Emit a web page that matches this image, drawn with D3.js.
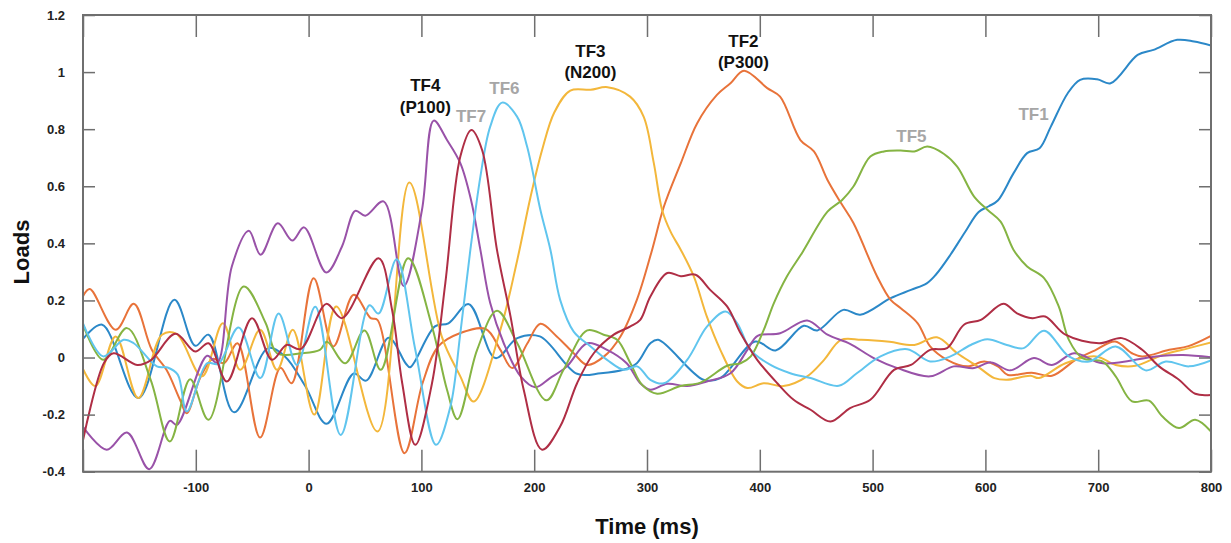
<!DOCTYPE html>
<html>
<head>
<meta charset="utf-8">
<script src="https://cdn.jsdelivr.net/npm/d3@7"></script>
<style>
  body { margin: 0; background: #fff; }
  svg { display: block; font-family: "Liberation Sans", Arial, sans-serif; }
</style>
</head>
<body>
<svg id="chart" width="1231" height="543"></svg>
<script>
// time (ms) / load pairs, one array per temporal factor
var tf1 = [[-200,0.065],[-183,0.115],[-151,-0.142],[-119,0.202],[-100.5,0.041],[-88.7,0.08],[-66,-0.192],[-36,0.033],[-21,0.004],[-3,-0.1],[16,-0.232],[40,-0.056],[51,-0.081],[71,0.069],[86,-0.02],[90,-0.034],[112,0.109],[124,0.12],[142,0.187],[165.6,-0.002],[185,0.068],[205,0.074],[238,-0.057],[259,-0.055],[279,-0.043],[291,-0.02],[303,0.05],[310,0.062],[350,-0.078],[365,-0.072],[396,0.056],[414,0.025],[439,0.111],[451,0.095],[474,0.167],[489,0.15],[516,0.208],[534,0.237],[548,0.26],[556,0.29],[569,0.36],[582,0.44],[594,0.51],[603,0.53],[611,0.55],[625,0.646],[637,0.716],[648,0.733],[658,0.809],[673,0.926],[684,0.973],[699,0.975],[711,0.961],[735,1.06],[749,1.078],[770,1.113],[785,1.107],[800,1.093]];
var tf2 = [[-200,0.215],[-194,0.24],[-171,0.097],[-155,0.188],[-139,0.027],[-126,-0.043],[-114,-0.148],[-108,-0.195],[-96,-0.07],[-85,-0.005],[-75,-0.02],[-63,0.05],[-43,-0.28],[-25,-0.036],[-15,-0.09],[4.5,0.278],[22,0.039],[40,0.22],[55,0.138],[61,0.132],[85,-0.335],[101,-0.09],[115,0.039],[134,0.085],[157,0.1],[170,0.027],[180.5,-0.037],[194,0.05],[205.5,0.118],[220,0.074],[235,0.015],[247,-0.026],[262,0.004],[276.5,0.074],[291,0.202],[304,0.37],[315,0.529],[330,0.681],[344.5,0.821],[362,0.92],[374,0.961],[386,1.005],[406.6,0.944],[418,0.914],[436,0.762],[448,0.722],[460,0.622],[472,0.541],[483,0.471],[504,0.284],[516,0.202],[525,0.173],[540,0.12],[551,0.039],[566,-0.008],[584,-0.031],[599,-0.014],[611,-0.031],[620,-0.061],[641,-0.053],[659,-0.064],[680,-0.008],[698,0.027],[715,0.056],[730,0.015],[739,0.004],[763,0.027],[780,0.04],[800,0.076]];
var tf3 = [[-200,-0.04],[-189,-0.1],[-171,0.074],[-151,-0.142],[-130,0.08],[-117,0.083],[-94.5,-0.066],[-76,0.12],[-60.6,-0.043],[-43,0.097],[-28,-0.043],[-14,0.097],[5,-0.2],[24.5,0.179],[61,-0.259],[89.3,0.613],[118,0.074],[134.5,-0.066],[146.3,-0.154],[170,0.097],[185,0.342],[196.6,0.56],[207,0.727],[218,0.86],[232,0.935],[250,0.938],[265,0.947],[285,0.914],[297,0.844],[306,0.682],[313.4,0.517],[321,0.44],[330,0.377],[341.5,0.284],[353,0.144],[365,0.027],[380,-0.084],[389,-0.107],[403.5,-0.09],[421,-0.1],[442,-0.066],[457,-0.008],[472,0.062],[490,0.062],[515,0.055],[537,0.044],[557,0.071],[575,0.015],[593,-0.031],[608,-0.072],[619,-0.078],[640,-0.064],[647.5,-0.072],[671,-0.02],[698,0.004],[715.5,-0.026],[733,-0.029],[757,0.009],[780.5,0.033],[800,0.053]];
var tf4 = [[-200,-0.243],[-179,-0.323],[-161,-0.263],[-141.3,-0.391],[-123,-0.222],[-116.7,-0.236],[-90,0.006],[-81,-0.019],[-68,0.32],[-53,0.444],[-42.6,0.36],[-27.3,0.47],[-14.5,0.41],[-4,0.456],[15.7,0.298],[29.6,0.389],[41.4,0.514],[50.3,0.497],[66.5,0.547],[84.3,0.251],[100.5,0.517],[110.9,0.83],[122.7,0.762],[134.5,0.681],[144,0.552],[152.3,0.377],[161,0.191],[173,0.05],[188,-0.066],[201,-0.104],[214,-0.072],[229,-0.031],[247,0.05],[264.6,0.027],[282,-0.02],[294,-0.09],[303,-0.113],[318,-0.092],[335.6,-0.1],[353,-0.084],[374,-0.055],[389,0.027],[398,0.076],[418,0.085],[442,0.13],[460,0.08],[480,0.048],[501,-0.002],[522,-0.037],[551,-0.066],[572,-0.031],[590,-0.037],[605,-0.017],[622,-0.045],[643,-0.002],[659,-0.026],[678.5,0.015],[704,-0.02],[751,0.004],[775,0.009],[800,0.001]];
var tf5 = [[-200,0.115],[-182,-0.008],[-161,0.103],[-140,-0.078],[-123,-0.294],[-105,-0.076],[-88.7,-0.218],[-57.6,0.249],[-38,0.12],[-28,0.015],[-6,0.015],[10,0.027],[16.3,0.055],[32.5,-0.02],[49.5,0.095],[64,-0.043],[88.2,0.348],[109.4,0.109],[122.7,-0.113],[132,-0.216],[149.4,0.027],[167,0.164],[185,0.05],[210.8,-0.15],[226,-0.043],[247,0.095],[261.6,0.08],[273.5,0.062],[285.3,-0.02],[295.7,-0.096],[309,-0.127],[329.7,-0.1],[347.4,-0.088],[371,-0.029],[383,-0.02],[392,0.004],[403.5,0.097],[412.4,0.19],[424,0.284],[438,0.37],[460,0.511],[473,0.552],[483,0.599],[498,0.704],[510,0.722],[525,0.725],[537,0.722],[548.5,0.739],[563,0.714],[575,0.669],[590,0.564],[602,0.517],[613.5,0.476],[625,0.377],[637,0.319],[652,0.278],[665,0.179],[674,0.062],[686,-0.002],[704,-0.014],[715.5,-0.066],[730,-0.154],[745,-0.151],[757,-0.207],[771.6,-0.247],[786,-0.218],[800,-0.259]];
var tf6 = [[-200,0.12],[-182,0.004],[-164,0.062],[-155,0.05],[-134.5,-0.031],[-125,-0.035],[-116,-0.06],[-108,-0.189],[-90,-0.02],[-80,-0.022],[-62,0.105],[-42.8,-0.072],[-26.6,0.154],[-10.3,-0.026],[5.9,0.178],[28.5,-0.271],[54,0.183],[62,0.154],[78,0.344],[94.6,0.027],[113,-0.306],[125.7,-0.172],[134.5,0.085],[143.4,0.377],[152.3,0.634],[161,0.809],[171.5,0.893],[184.8,0.844],[193.7,0.739],[205.5,0.517],[214.4,0.377],[223,0.202],[235,0.091],[250,0.039],[264.6,-0.008],[279.4,-0.043],[291.3,-0.031],[303,-0.078],[315,-0.09],[335.6,-0.008],[353.3,0.109],[369.6,0.161],[380,0.12],[391.8,0.027],[409.5,-0.026],[427,-0.055],[445,-0.072],[470,-0.099],[486,-0.055],[507,0.004],[530.7,0.029],[551,-0.014],[569,0.004],[587,0.044],[601.7,0.064],[619,0.044],[634,0.033],[652,0.094],[674,0.004],[692,-0.014],[715.5,0.039],[742,-0.045],[760,-0.014],[780.5,-0.031],[800,-0.01]];
var tf7 = [[-200,-0.29],[-181.5,-0.02],[-173,0.015],[-152,-0.026],[-140,-0.01],[-118,0.083],[-100.5,0.021],[-88.7,0.05],[-72.4,-0.084],[-50.2,0.138],[-32.5,-0.008],[-19.5,0.044],[-7,0.03],[15.7,0.188],[29.6,0.138],[62,0.348],[74,0.167],[83,-0.09],[94.6,-0.306],[109.4,-0.09],[121.2,0.261],[134.5,0.704],[144.3,0.797],[153.8,0.727],[167,0.377],[179,0.144],[190.7,-0.113],[207,-0.323],[223,-0.242],[238,-0.09],[252.8,0.015],[270.5,0.08],[285.3,0.109],[294,0.132],[303,0.214],[318,0.296],[330,0.285],[343,0.29],[356,0.237],[371,0.179],[383,0.085],[397.7,-0.008],[415.5,-0.09],[430,-0.148],[445,-0.183],[462.7,-0.224],[480,-0.177],[498,-0.148],[519,-0.043],[534,-0.026],[551,0.027],[566,0.033],[581,0.115],[596,0.132],[616,0.188],[628,0.155],[641.6,0.138],[653,0.144],[671,0.08],[700.7,0.05],[721,0.068],[739,0.027],[754,-0.031],[771.6,-0.078],[786,-0.127],[800,-0.131]];

var seriesNames = ["TF1","TF2","TF3","TF4","TF5","TF6","TF7"];
var seriesData = [tf1, tf2, tf3, tf4, tf5, tf6, tf7];
var seriesColors = ["#2b88c8","#e8733a","#f3b73b","#9952a8","#85b443","#60c5ee","#af2e45"];

var xTicks = [-200,-100,0,100,200,300,400,500,600,700,800];
var yTicks = [-0.4,-0.2,0,0.2,0.4,0.6,0.8,1,1.2];

// peak annotations: [line1, line2, time, load, colour]
var peakLabels = [
  ["TF4","(P100)",103.5,0.932,"#111"],
  ["TF7","",144,0.826,"#a6a6a6"],
  ["TF6","",173.6,0.924,"#a6a6a6"],
  ["TF3","(N200)",249.8,1.054,"#111"],
  ["TF2","(P300)",385.5,1.089,"#111"],
  ["TF5","",534.4,0.755,"#a6a6a6"],
  ["TF1","",642.7,0.833,"#a6a6a6"]
];

var svg = d3.select("#chart");
var pL = 83, pR = 1211, pT = 15, pB = 471.7;

var x = d3.scaleLinear().domain([-200, 800]).range([pL, pR]);
var y = d3.scaleLinear().domain([-0.4, 1.2]).range([pB, pT]);

var axisColor = "#6f6f6f";

svg.append("clipPath").attr("id", "plotclip")
  .append("rect")
  .attr("x", pL).attr("y", pT)
  .attr("width", pR - pL).attr("height", pB - pT);

// curves
var line = d3.line()
  .x(d => x(d[0]))
  .y(d => y(d[1]))
  .curve(d3.curveCatmullRom.alpha(0.5));

svg.append("g").attr("clip-path", "url(#plotclip)")
  .selectAll("path")
  .data(seriesData)
  .enter()
  .append("path")
  .attr("d", line)
  .attr("fill", "none")
  .attr("stroke", (d, i) => seriesColors[i])
  .attr("stroke-width", 2)
  .attr("stroke-linejoin", "round");

// axes (ticks point inward, like the original)
var fmt = d => String(+d.toFixed(2));

var xb = svg.append("g").attr("transform", "translate(0," + pB + ")")
  .call(d3.axisBottom(x).tickValues(xTicks).tickSize(-22).tickPadding(11.5)
    .tickFormat(d => d === -200 ? "" : fmt(d)));
var xt = svg.append("g").attr("transform", "translate(0," + pT + ")")
  .call(d3.axisTop(x).tickValues(xTicks).tickSize(-22).tickFormat(""));
var yl = svg.append("g").attr("transform", "translate(" + pL + ",0)")
  .call(d3.axisLeft(y).tickValues(yTicks).tickSize(-12).tickPadding(18).tickFormat(fmt));
var yr = svg.append("g").attr("transform", "translate(" + pR + ",0)")
  .call(d3.axisRight(y).tickValues(yTicks).tickSize(-12).tickFormat(""));

[xb, xt, yl, yr].forEach(g => {
  g.select(".domain").remove();
  g.selectAll(".tick line").attr("stroke", axisColor).attr("stroke-width", 1.5);
  g.selectAll(".tick text")
    .attr("fill", "#222")
    .style("font-size", "13px")
    .style("font-weight", "bold")
    .style("font-family", "'Liberation Sans', Arial, sans-serif");
});

svg.append("rect")
  .attr("x", pL).attr("y", pT)
  .attr("width", pR - pL).attr("height", pB - pT)
  .attr("fill", "none")
  .attr("stroke", axisColor)
  .attr("stroke-width", 2);

// axis titles
svg.append("text")
  .attr("x", (pL + pR) / 2)
  .attr("y", 534)
  .attr("text-anchor", "middle")
  .style("font-size", "22px")
  .style("font-weight", "bold")
  .attr("fill", "#111")
  .text("Time (ms)");

svg.append("text")
  .attr("transform", "translate(28.5,252) rotate(-90)")
  .attr("text-anchor", "middle")
  .style("font-size", "22px")
  .style("font-weight", "bold")
  .attr("fill", "#111")
  .text("Loads");

// peak labels
var lab = svg.append("g")
  .selectAll("text")
  .data(peakLabels)
  .enter()
  .append("text")
  .attr("x", d => x(d[2]))
  .attr("y", d => y(d[3]))
  .attr("text-anchor", "middle")
  .attr("fill", d => d[4])
  .style("font-size", "17px")
  .style("font-weight", "bold");

lab.append("tspan").text(d => d[0]);
lab.filter(d => d[1] !== "")
  .append("tspan")
  .attr("x", d => x(d[2]))
  .attr("dy", 21.5)
  .text(d => d[1]);
</script>
</body>
</html>
